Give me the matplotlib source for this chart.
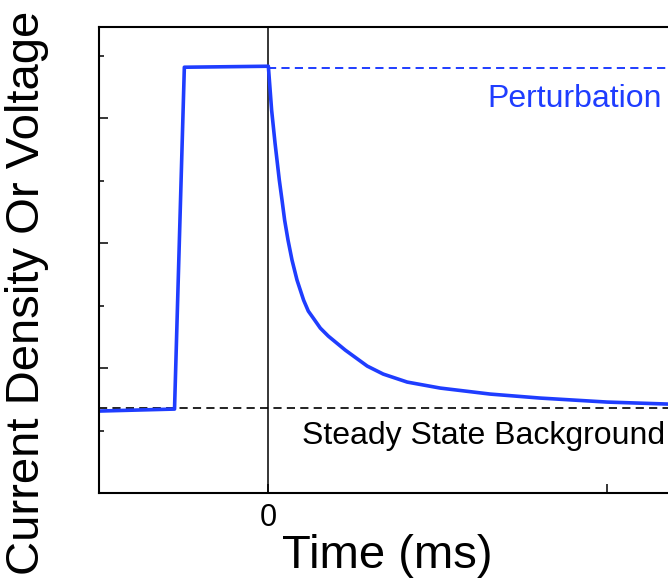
import matplotlib.pyplot as plt
from matplotlib.ticker import MultipleLocator

plt.rcParams['font.family'] = ['Liberation Sans', 'DejaVu Sans']

# pulse trace (time in ms units, signal in arbitrary units)
t = [-0.50, -0.277, -0.248, 0.0, 0.0097, 0.0198, 0.0324, 0.0404, 0.0481, 0.0581,
     0.0699, 0.0847, 0.1041, 0.1180, 0.1327, 0.1534, 0.1770, 0.2271, 0.2920,
     0.3392, 0.410, 0.5074, 0.6549, 0.8024, 1.0, 1.18]
sig = [0.656, 0.672, 3.408, 3.416, 3.064, 2.800, 2.504, 2.344, 2.184, 2.024,
       1.864, 1.704, 1.544, 1.456, 1.400, 1.320, 1.256, 1.144, 1.016,
       0.952, 0.888, 0.840, 0.792, 0.760, 0.728, 0.712]

steady = 0.68
perturb = 3.40
blue = '#1f3dff'

fig = plt.figure(figsize=(6.68, 5.87), dpi=100)
ax = fig.add_axes([0.1482, 0.1601, 0.8518, 0.7939])

ax.axhline(steady, color='#222222', lw=1.4, linestyle=(0, (4.2, 2.7)))
ax.plot([0, 1.18], [perturb, perturb], color=blue, lw=1.4, linestyle=(0, (4.2, 2.7)))
ax.axvline(0, color='black', lw=1.1)
ax.plot(t, sig, color=blue, lw=2.6, solid_joinstyle='round')

ax.text(1.162, 3.088, 'Perturbation', color=blue, fontsize=23, ha='right', va='baseline')
ax.text(1.171, 0.392, 'Steady State Background', color='black', fontsize=23,
        ha='right', va='baseline')

ax.set_xlim(-0.5, 1.18)
ax.set_ylim(0, 3.73)
ax.set_xticks([0, 1])
ax.set_xticklabels(['0', ''])
ax.yaxis.set_major_locator(MultipleLocator(1))
ax.yaxis.set_minor_locator(MultipleLocator(0.5))
ax.set_yticklabels([])
ax.tick_params(axis='both', which='major', direction='in', length=6.5, width=1.1,
               labelsize=22, pad=7)
ax.tick_params(axis='y', which='minor', direction='in', length=3.6, width=1.1)

ax.spines['right'].set_visible(False)
for s in ['left', 'top', 'bottom']:
    ax.spines[s].set_linewidth(1.5)

ax.set_xlabel('Time (ms)', fontsize=34)
ax.set_ylabel('Current Density Or Voltage', fontsize=34)
ax.xaxis.set_label_coords(0.507, -0.089)
ax.yaxis.set_label_coords(-0.088, 0.43)

fig.savefig('out.png', dpi=100)
